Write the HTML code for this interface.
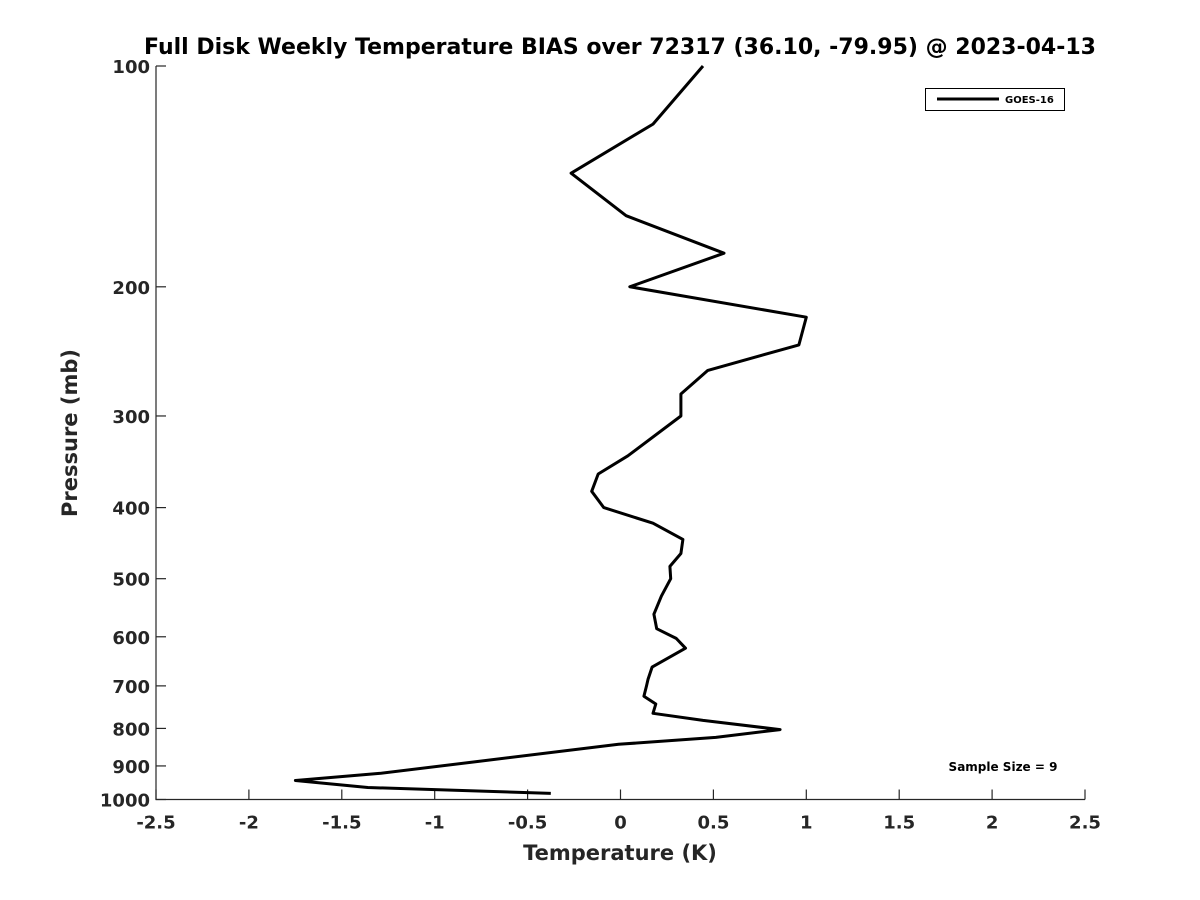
<!DOCTYPE html>
<html><head><meta charset="utf-8"><style>body{margin:0;background:#fff}svg{display:block;font-family:"DejaVu Sans","Liberation Sans",sans-serif;font-weight:bold}</style></head>
<body>
<svg id="chart" width="1200" height="900" xmlns="http://www.w3.org/2000/svg">
<rect width="1200" height="900" fill="#fff"/>
<text x="620" y="54" text-anchor="middle" font-size="22" fill="#000">Full Disk Weekly Temperature BIAS over 72317 (36.10, -79.95) @ 2023-04-13</text>
<g id="axes"></g>
<path id="line" fill="none" stroke="#000" stroke-width="3" stroke-linejoin="round"/>
<g>
<rect x="925.5" y="88.5" width="139" height="22" fill="#fff" stroke="#000" stroke-width="1"/>
<line x1="937" y1="99" x2="999" y2="99" stroke="#000" stroke-width="3"/>
<text x="1005" y="103" font-size="10">GOES-16</text>
</g>
<text x="1003" y="771" text-anchor="middle" font-size="12">Sample Size = 9</text>
<text x="620" y="860" text-anchor="middle" font-size="21" fill="#262626">Temperature (K)</text>
<text transform="translate(77,433) rotate(-90)" text-anchor="middle" font-size="21" fill="#262626">Pressure (mb)</text>
</svg>
<script>
const temps=[0.444,0.175,-0.266,0.03,0.557,0.05,1.0,0.96,0.47,0.325,0.325,0.04,-0.12,-0.155,-0.09,0.175,0.336,0.325,0.266,0.27,0.22,0.18,0.195,0.3,0.35,0.17,0.148,0.14,0.126,0.19,0.175,0.444,0.859,0.513,-0.01,-1.29,-1.75,-1.36,-0.375];
const pressures=[100,120,140,160,180,200,220,240,260,280,300,340,360,380,400,420,442,462,481,500,528,559,585,603,622,660,686,700,723,741,763,780,803,823,841,921,942,963,981];
const xTicks=[-2.5,-2,-1.5,-1,-0.5,0,0.5,1,1.5,2,2.5];
const xTickLabels=["-2.5","-2","-1.5","-1","-0.5","0","0.5","1","1.5","2","2.5"];
const yTicks=[100,200,300,400,500,600,700,800,900,1000];
const yTickLabels=["100","200","300","400","500","600","700","800","900","1000"];
const L=156,R=1085,T=66,B=799.5;
const xs=v=>L+(v+2.5)/5*(R-L);
const ys=p=>T+Math.log10(p/100)*(B-T);
const NS="http://www.w3.org/2000/svg";
const ax=document.getElementById('axes');
function mk(tag,attrs){const e=document.createElementNS(NS,tag);for(const k in attrs)e.setAttribute(k,attrs[k]);return e;}
let e=mk('path',{d:`M${L},${T}V${B}H${R}`,fill:'none',stroke:'#262626','stroke-width':1.2});


ax.appendChild(e);
xTicks.forEach((v,i)=>{const x=xs(v);
const t=mk('line',{x1:x,x2:x,y1:B,y2:B-10,stroke:'#262626','stroke-width':1.2});


ax.appendChild(t);
const l=mk('text',{x:x,y:B+29,'text-anchor':'middle','font-size':18,fill:'#262626'});l.textContent=xTickLabels[i];


ax.appendChild(l);});
yTicks.forEach((p,i)=>{const y=ys(p);
const t=mk('line',{x1:L,x2:L+10,y1:y,y2:y,stroke:'#262626','stroke-width':1.2});


ax.appendChild(t);
const l=mk('text',{x:L-6,y:y+7,'text-anchor':'end','font-size':18,fill:'#262626'});l.textContent=yTickLabels[i];


ax.appendChild(l);});
document.getElementById('line').setAttribute('d',temps.map((t,i)=>(i?'L':'M')+xs(t).toFixed(1)+','+ys(pressures[i]).toFixed(1)).join(''));
</script>
</body></html>
